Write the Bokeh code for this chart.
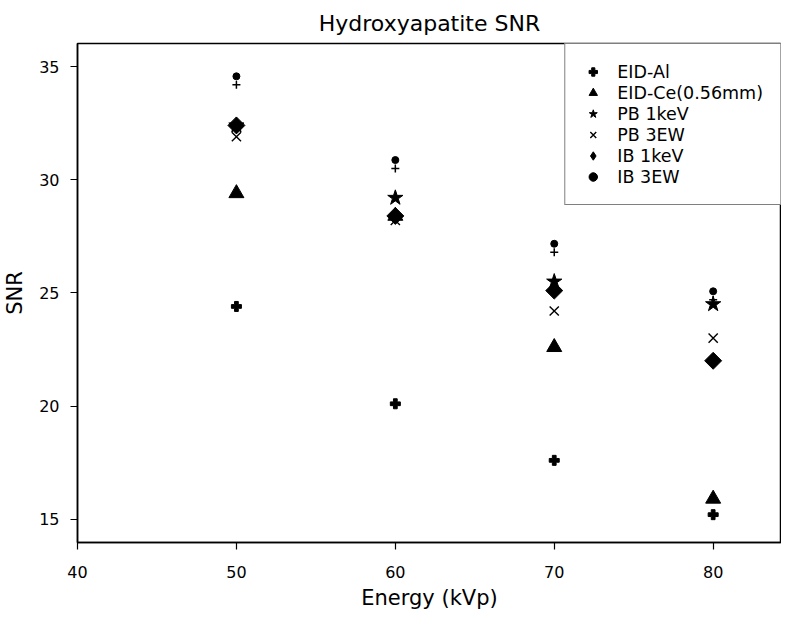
from bokeh.plotting import figure
from bokeh.models import Legend, LegendItem, Range1d, FixedTicker
from bokeh.transform import dodge
from bokeh.embed import file_html
from bokeh.resources import INLINE

energy = [50, 60, 70, 80]
eid_al = [24.4, 20.1, 17.6, 15.2]
eid_ce = [29.4, 28.4, 22.6, 15.9]
pb_1kev = [32.4, 29.2, 25.5, 24.5]
pb_3ew = [31.9, 28.2, 24.2, 23.0]
ib_1kev = [32.4, 28.4, 25.1, 22.0]
ib_3ew = [34.4, 30.7, 27.0, 24.9]
x_ticks = [40, 50, 60, 70, 80]
y_ticks = [15, 20, 25, 30, 35]

FONT = "DejaVu Sans"
NAN = float("nan")

p = figure(width=781, height=612, output_backend="svg", toolbar_location=None,
           x_range=Range1d(40, 84.3), y_range=Range1d(13.97, 36.02),
           min_border_left=0, min_border_right=0, min_border_top=0, min_border_bottom=0,
           title="Hydroxyapatite SNR")
p.title.align = "center"
p.title.text_font = FONT
p.title.text_font_size = "22px"
p.title.text_font_style = "normal"
p.title.text_color = "black"
p.title.standoff = 16

p.xgrid.visible = False
p.ygrid.visible = False
p.outline_line_color = "black"
p.outline_line_width = 1.5

for ax, ticks in ((p.xaxis, x_ticks), (p.yaxis, y_ticks)):
    ax.ticker = FixedTicker(ticks=ticks)
    ax.minor_tick_line_color = None
    ax.major_tick_out = 7
    ax.major_tick_in = 0
    ax.major_tick_line_color = "black"
    ax.major_tick_line_width = 1.2
    ax.axis_line_color = "black"
    ax.axis_line_width = 1.5
    ax.major_label_text_font = FONT
    ax.major_label_text_font_size = "16px"
    ax.major_label_text_color = "black"
    ax.axis_label_text_font = FONT
    ax.axis_label_text_font_size = "21px"
    ax.axis_label_text_font_style = "normal"
    ax.axis_label_text_color = "black"

p.xaxis.axis_label = "Energy (kVp)"
p.yaxis.axis_label = "SNR"
p.xaxis.major_label_standoff = 16
p.yaxis.major_label_standoff = 11
p.xaxis.axis_label_standoff = 5
p.yaxis.axis_label_standoff = 9

r1 = p.scatter(energy, eid_al, marker="plus", size=10, color="black")
r2 = p.scatter(energy, eid_ce, marker="triangle", size=15, color="black")
r3 = p.scatter(energy, pb_1kev, marker="star", size=16, color="black")
r4 = p.scatter(energy, pb_3ew, marker="x", size=13, line_color="black", line_width=1.4)
r5 = p.scatter(energy, ib_1kev, marker="square", size=12, angle=0.785398, color="black")
# legend key only (the legend cannot rotate a square)
r5_key = p.scatter(x=[NAN], y=[NAN], marker="diamond", size=12, color="black")

src6 = dict(x=energy, y=ib_3ew)
r6a = p.scatter(x="x", y=dodge("y", 0.17, range=p.y_range), source=src6,
                marker="circle", size=7, color="black")
r6b = p.scatter(x="x", y=dodge("y", -0.2, range=p.y_range), source=src6,
                marker="cross", size=8, line_color="black", line_width=1.5)

legend = Legend(items=[
    LegendItem(label="EID-Al", renderers=[r1]),
    LegendItem(label="EID-Ce(0.56mm)", renderers=[r2]),
    LegendItem(label="PB 1keV", renderers=[r3]),
    LegendItem(label="PB 3EW", renderers=[r4]),
    LegendItem(label="IB 1keV", renderers=[r5_key]),
    LegendItem(label="IB 3EW", renderers=[r6b, r6a]),
], location="top_right")
legend.margin = 0
legend.padding = 17
legend.spacing = 0
legend.glyph_width = 21
legend.glyph_height = 21
legend.label_height = 21
legend.label_standoff = 14
legend.label_text_font = FONT
legend.label_text_font_size = "17.5px"
legend.label_text_color = "black"
legend.border_line_color = "black"
legend.border_line_width = 1.5
legend.background_fill_alpha = 1
p.add_layout(legend)

open("out.html", "w").write(file_html(p, INLINE))
